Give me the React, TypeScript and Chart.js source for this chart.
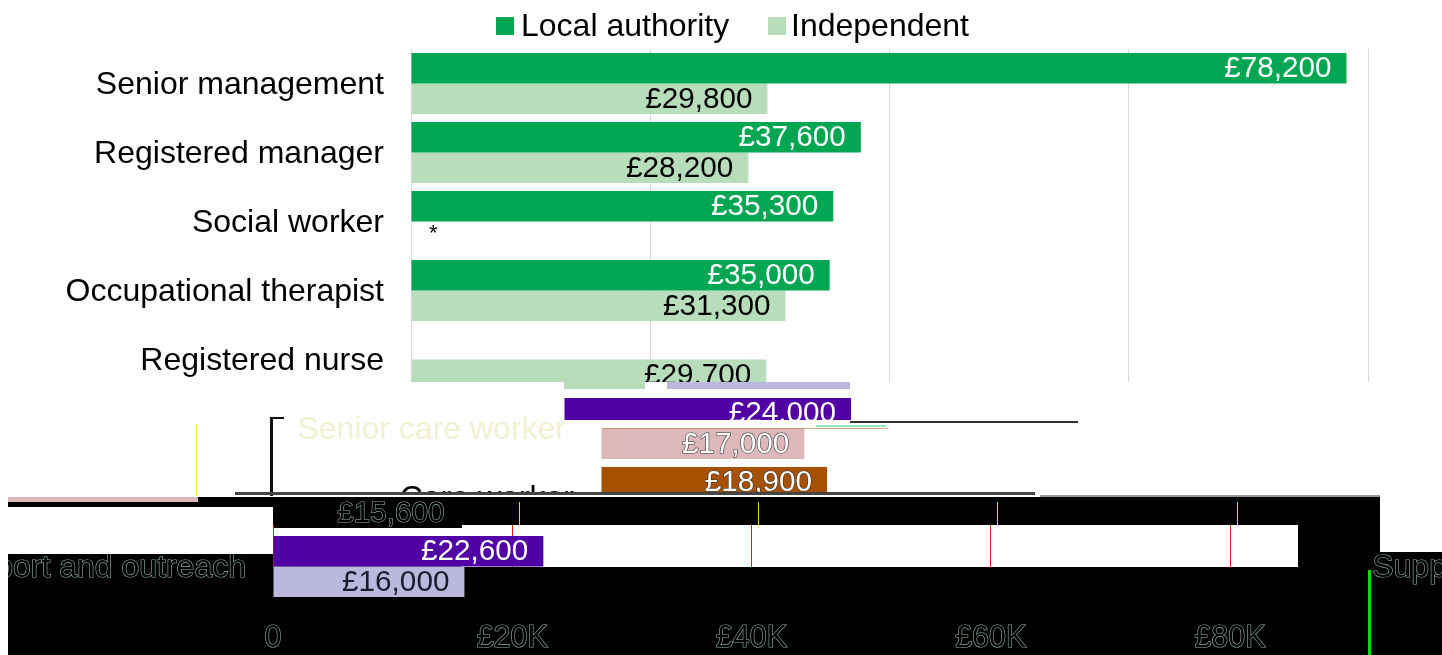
import React, { useEffect, useRef } from "react";
import { Chart, registerables } from "chart.js";

Chart.register(...registerables);

const categories = [
  "Senior management",
  "Registered manager",
  "Social worker",
  "Occupational therapist",
  "Registered nurse",
  "Senior care worker",
  "Care worker",
  "Support and outreach",
];
const localAuthority = [78200, 37600, 35300, 35000, null, 24000, 18900, 22600];
const independent = [29800, 28200, null, 31300, 29700, 17000, 15600, 16000];
const suppressedIndependent = ["Social worker"];
const seriesNames = ["Local authority", "Independent"];
const tickValues = [0, 20000, 40000, 60000, 80000];

const FONT = "Liberation Sans";
const SIZE = 29.7;
const CAT_SIZE = 32;
const TICK_SIZE = 30.5;
const GREEN = "#00a651";
const PALE_GREEN = "#b8ddbb";
const PURPLE = "#5100a6";
const LAVENDER = "#bbb8dd";
const PINK = "#ddb8bb";
const ORANGE = "#a65100";
const OUTLINE = "#8fb0ae";

type Look = {
  localColor?: string;
  indepColor?: string;
  localText?: string;
  indepText?: string;
  labelStroke?: string;
  tickColor?: string;
  tickStroke?: string;
  gridColor?: string;
  legend?: boolean;
};

const money = (v: number) => "£" + v.toLocaleString("en-GB");
const tickText = (v: number) => (v === 0 ? "0" : "£" + v / 1000 + "K");

function makeChart(canvas: HTMLCanvasElement, look: Look) {
  const none = "rgba(0,0,0,0)";
  const labelsPlugin = {
    id: "barLabels",
    beforeDraw(chart: any) {
      chart.scales.y.getLabelItems().forEach((item: any) => {
        item.textOffset = 2;
      });
    },
    afterDatasetsDraw(chart: any) {
      const { ctx } = chart;
      ctx.save();
      ctx.font = `${SIZE}px "${FONT}"`;
      ctx.textAlign = "right";
      ctx.textBaseline = "middle";
      chart.data.datasets.forEach((ds: any, d: number) => {
        const color = d === 0 ? look.localText : look.indepText;
        chart.getDatasetMeta(d).data.forEach((bar: any, i: number) => {
          const v = ds.data[i];
          if (!color) return;
          if (v === null) {
            if (d === 1 && suppressedIndependent.includes(categories[i])) {
              const x0 = chart.scales.x.getPixelForValue(0);
              const cy = chart.scales.y.getPixelForValue(i);
              ctx.save();
              ctx.font = `22px "${FONT}"`;
              ctx.textAlign = "left";
              ctx.fillStyle = "#000";
              ctx.fillText("*", x0 + 18, cy + 12);
              ctx.restore();
            }
            return;
          }
          if (look.labelStroke) {
            ctx.lineWidth = 1.2;
            ctx.strokeStyle = look.labelStroke;
            ctx.strokeText(money(v), bar.x - 15, bar.y + 1);
          }
          ctx.fillStyle = color;
          ctx.fillText(money(v), bar.x - 15, bar.y + 1);
        });
      });
      ctx.restore();
    },
  };
  const legendPlugin = {
    id: "topLegend",
    afterDraw(chart: any) {
      if (!look.legend) return;
      const { ctx } = chart;
      const spots = [496, 768];
      const gaps = [25, 23];
      ctx.save();
      ctx.font = `${CAT_SIZE}px "${FONT}"`;
      ctx.textBaseline = "middle";
      ctx.textAlign = "left";
      chart.data.datasets.forEach((ds: any, d: number) => {
        ctx.fillStyle = ds.backgroundColor;
        ctx.fillRect(spots[d], 17, 18, 18);
        ctx.fillStyle = "#000";
        ctx.fillText(ds.label, spots[d] + gaps[d], 27);
      });
      ctx.restore();
    },
  };
  return new Chart(canvas, {
    type: "bar",
    data: {
      labels: categories,
      datasets: [
        { label: seriesNames[0], data: localAuthority, backgroundColor: look.localColor ?? none },
        { label: seriesNames[1], data: independent, backgroundColor: look.indepColor ?? none },
      ],
    },
    options: {
      indexAxis: "y",
      animation: false,
      responsive: false,
      layout: { padding: { left: 0, right: 74, top: 49, bottom: 0 } },
      categoryPercentage: 0.884,
      barPercentage: 1,
      plugins: { legend: { display: false }, tooltip: { enabled: false } },
      scales: {
        x: {
          min: 0,
          max: 80000,
          afterBuildTicks: (s: any) => {
            s.ticks = tickValues.map((value) => ({ value }));
          },
          afterFit: (s: any) => {
            s.height = 54;
          },
          border: { display: false },
          grid: { color: look.gridColor ?? none, drawTicks: false, lineWidth: 1 },
          ticks: {
            callback: (v: any) => tickText(Number(v)),
            color: look.tickColor ?? none,
            textStrokeColor: look.tickStroke,
            textStrokeWidth: look.tickStroke ? 1.2 : 0,
            font: { family: FONT, size: TICK_SIZE },
            padding: 19,
            maxRotation: 0,
          },
        },
        y: {
          afterFit: (s: any) => {
            s.width = 411;
          },
          border: { display: false },
          grid: { display: false },
          ticks: {
            color: look.tickColor ?? none,
            textStrokeColor: look.tickStroke,
            textStrokeWidth: look.tickStroke ? 1.2 : 0,
            font: { family: FONT, size: CAT_SIZE },
            padding: 19,
            autoSkip: false,
          },
        },
      },
    } as any,
    plugins: [labelsPlugin, legendPlugin],
  });
}

function Band(p: { x: number; y: number; w: number; h: number; shift: number; look: Look }) {
  const ref = useRef<HTMLCanvasElement>(null);
  useEffect(() => {
    const chart = makeChart(ref.current!, p.look);
    return () => chart.destroy();
  }, []);
  return (
    <div style={{ position: "absolute", left: p.x, top: p.y, width: p.w, height: p.h, overflow: "hidden" }}>
      <canvas
        ref={ref}
        width={1442}
        height={655}
        style={{ position: "absolute", left: p.shift - p.x, top: -p.y }}
      />
    </div>
  );
}

function Patch(p: { x: number; y: number; w: number; h: number; c: string }) {
  return <div style={{ position: "absolute", left: p.x, top: p.y, width: p.w, height: p.h, background: p.c }} />;
}

export default function App() {
  return (
    <div style={{ position: "absolute", left: 0, top: 0, width: 1442, height: 655, overflow: "hidden", background: "#fff" }}>
      {/* intact upper part */}
      <Band x={0} y={0} w={1442} h={382} shift={0}
        look={{ localColor: GREEN, indepColor: PALE_GREEN, localText: "#fff", indepText: "#000", tickColor: "#000", gridColor: "#d9d9d9", legend: true }} />
      <Band x={564} y={382} w={81} h={7} shift={0} look={{ indepColor: PALE_GREEN }} />
      <Band x={667} y={382} w={183} h={7} shift={84} look={{ indepColor: LAVENDER }} />

      {/* displaced middle part */}
      <Band x={400} y={389} w={600} h={31} shift={153}
        look={{ localColor: PURPLE, localText: "#fff" }} />
      <Band x={290} y={405} w={300} h={45} shift={182} look={{ tickColor: "#f1f0d2" }} />
      <Band x={590} y={428} w={400} h={67} shift={190}
        look={{ localColor: ORANGE, indepColor: PINK, localText: "#fff", indepText: "#fff", labelStroke: "#333" }} />
      <Band x={390} y={470} w={200} h={25} shift={190} look={{ tickColor: "#000" }} />
      <Patch x={850} y={421} w={228} h={2} c="#333" />
      <Patch x={816} y={425} w={70} h={2} c="#93e8c0" />
      <Patch x={196} y={424} w={1} h={72} c="#f4ee4a" />
      <Patch x={270} y={417} w={3} h={79} c="#111" />
      <Patch x={270} y={417} w={14} h={2} c="#111" />
      <Patch x={235} y={492} w={800} h={3} c="#444" />

      {/* inverted lower part */}
      <Patch x={8} y={497} w={1434} h={158} c="#000" />
      <Patch x={8} y={497} w={190} h={5} c={PINK} />
      <Patch x={1040} y={495} w={340} h={2} c="#999" />
      <Patch x={1380} y={497} w={62} h={55} c="#fff" />
      <Patch x={8} y={507} w={265} h={47} c="#fff" />
      <Patch x={273} y={528} w={200} h={8} c="#fff" />
      <Patch x={462} y={525} w={836} h={42} c="#fff" />
      <Patch x={1368} y={570} w={3} h={85} c="#00e000" />

      <Band x={273} y={497} w={197} h={31} shift={-138}
        look={{ indepText: "#000", labelStroke: OUTLINE }} />
      <Band x={470} y={502} w={900} h={23} shift={-131} look={{ gridColor: "#e8d820" }} />
      <Band x={273} y={525} w={1026} h={42} shift={-138}
        look={{ localColor: PURPLE, localText: "#fff", gridColor: "#d8202a" }} />
      <Band x={273} y={566} w={193} h={31} shift={-138}
        look={{ indepColor: LAVENDER, indepText: "#1b1b2b" }} />
      <Band x={8} y={554} w={265} h={40} shift={-138}
        look={{ tickColor: "#000", tickStroke: OUTLINE }} />
      <Band x={1368} y={552} w={74} h={40} shift={1296}
        look={{ tickColor: "#000", tickStroke: OUTLINE }} />
      <Band x={230} y={610} w={1100} h={45} shift={-138}
        look={{ tickColor: "#000", tickStroke: OUTLINE }} />
    </div>
  );
}
